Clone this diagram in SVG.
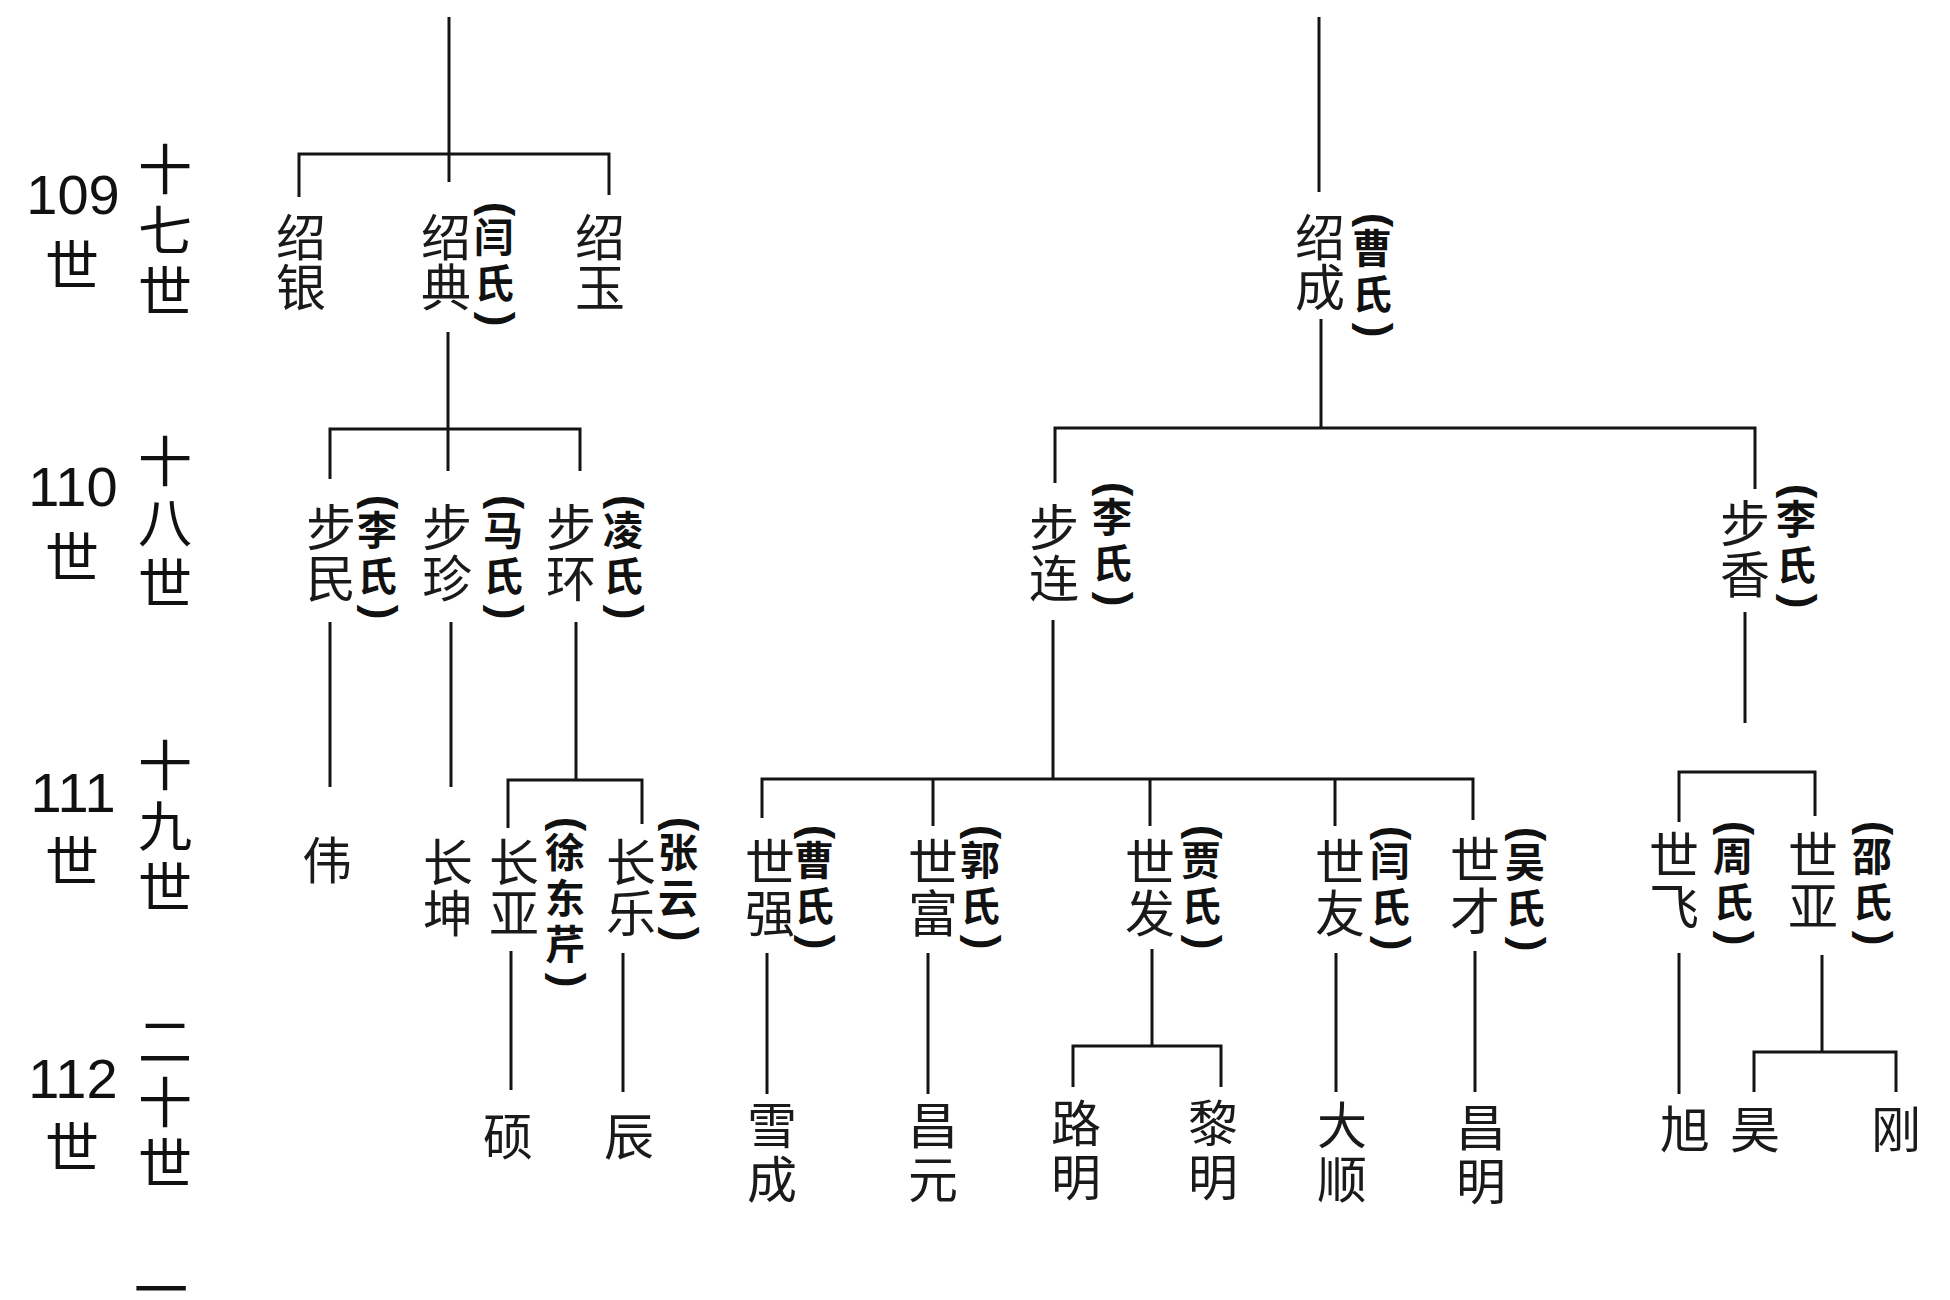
<svg xmlns="http://www.w3.org/2000/svg" width="1950" height="1300" viewBox="0 0 1950 1300">
<style>
.bg{fill:#fff}
.ln{fill:none;stroke:#141414;stroke-width:3;stroke-linecap:butt;stroke-linejoin:miter}
.nm{font-family:"Noto Sans CJK SC","Noto Sans CJK TC",sans-serif;font-size:50px;text-anchor:middle;fill:#1a1a1a}
.wf{font-family:"Noto Sans CJK SC","Noto Sans CJK TC",sans-serif;font-size:40px;font-weight:bold;text-anchor:middle;fill:#111}
.br{font-family:"Liberation Sans",Arial,sans-serif;font-size:44px;font-weight:bold;text-anchor:middle;dominant-baseline:central;fill:#111}
.num{font-family:"Liberation Sans",Arial,sans-serif;font-size:56px;text-anchor:middle;fill:#111}
.gc{font-family:"Noto Sans CJK SC","Noto Sans CJK TC",sans-serif;font-size:54px;text-anchor:middle;fill:#111}
</style>
<rect class="bg" x="0" y="0" width="1950" height="1300"/>

<g id="gen-labels">
  <g id="gen109"><text class="num" x="73" y="214">109</text><text class="gc" x="72" y="286">世</text>
    <text class="gc"><tspan x="165" y="190">十</tspan><tspan x="165" y="251">七</tspan><tspan x="165" y="312">世</tspan></text></g>
  <g id="gen110"><text class="num" x="73" y="506">110</text><text class="gc" x="72" y="578">世</text>
    <text class="gc"><tspan x="165" y="482">十</tspan><tspan x="165" y="543">八</tspan><tspan x="165" y="604">世</tspan></text></g>
  <g id="gen111"><text class="num" x="73" y="812">111</text><text class="gc" x="72" y="882">世</text>
    <text class="gc"><tspan x="165" y="786">十</tspan><tspan x="165" y="847">九</tspan><tspan x="165" y="908">世</tspan></text></g>
  <g id="gen112"><text class="num" x="73" y="1098">112</text><text class="gc" x="72" y="1168">世</text>
    <text class="gc"><tspan x="165" y="1062">二</tspan><tspan x="165" y="1123">十</tspan><tspan x="165" y="1184">世</tspan></text></g>
  <g id="gen113"><text class="gc" x="161" y="1310">一</text></g>
</g>

<g id="connectors">
  <path class="ln" d="M449,17 V182"/>
  <path class="ln" d="M299,197 V154 H609 V195"/>
  <path class="ln" d="M1319,17 V192"/>
  <path class="ln" d="M448,332 V471"/>
  <path class="ln" d="M330,479 V429 H580 V471"/>
  <path class="ln" d="M1321,319 V428"/>
  <path class="ln" d="M1055,483 V428 H1755 V489"/>
  <path class="ln" d="M330,622 V787"/>
  <path class="ln" d="M451,622 V787"/>
  <path class="ln" d="M576,622 V780"/>
  <path class="ln" d="M508,828 V780 H642 V824"/>
  <path class="ln" d="M1053,620 V779"/>
  <path class="ln" d="M762,818 V779 H1473 V820"/>
  <path class="ln" d="M933,779 V826"/>
  <path class="ln" d="M1150,779 V826"/>
  <path class="ln" d="M1335,779 V826"/>
  <path class="ln" d="M1745,612 V723"/>
  <path class="ln" d="M1679,822 V772 H1815 V816"/>
  <path class="ln" d="M511,951 V1090"/>
  <path class="ln" d="M623,953 V1092"/>
  <path class="ln" d="M767,953 V1094"/>
  <path class="ln" d="M928,953 V1094"/>
  <path class="ln" d="M1152,949 V1046"/>
  <path class="ln" d="M1073,1087 V1046 H1221 V1087"/>
  <path class="ln" d="M1336,953 V1092"/>
  <path class="ln" d="M1475,951 V1092"/>
  <path class="ln" d="M1679,953 V1094"/>
  <path class="ln" d="M1822,955 V1052"/>
  <path class="ln" d="M1754,1092 V1052 H1896 V1092"/>
</g>

<!-- generation 17 -->
<g id="n-shaoyin"><text class="nm"><tspan x="301" y="256">绍</tspan><tspan x="301" y="306">银</tspan></text></g>
<g id="n-shaodian"><text class="nm"><tspan x="446" y="256">绍</tspan><tspan x="446" y="306">典</tspan></text>
  <text class="br" transform="translate(498,209) rotate(90)">(</text>
  <text class="wf"><tspan x="494" y="252">闫</tspan><tspan x="494" y="298">氏</tspan></text>
  <text class="br" transform="translate(498,319) rotate(90)">)</text></g>
<g id="n-shaoyu"><text class="nm"><tspan x="600" y="256">绍</tspan><tspan x="600" y="306">玉</tspan></text></g>
<g id="n-shaocheng"><text class="nm"><tspan x="1320" y="256">绍</tspan><tspan x="1320" y="306">成</tspan></text>
  <text class="br" transform="translate(1376,220) rotate(90)">(</text>
  <text class="wf"><tspan x="1372" y="263">曹</tspan><tspan x="1372" y="309">氏</tspan></text>
  <text class="br" transform="translate(1376,330) rotate(90)">)</text></g>

<!-- generation 18 -->
<g id="n-bumin"><text class="nm"><tspan x="331" y="546">步</tspan><tspan x="331" y="597">民</tspan></text>
  <text class="br" transform="translate(381,502) rotate(90)">(</text>
  <text class="wf"><tspan x="377" y="545">李</tspan><tspan x="377" y="591">氏</tspan></text>
  <text class="br" transform="translate(381,612) rotate(90)">)</text></g>
<g id="n-buzhen"><text class="nm"><tspan x="447" y="546">步</tspan><tspan x="447" y="597">珍</tspan></text>
  <text class="br" transform="translate(507,502) rotate(90)">(</text>
  <text class="wf"><tspan x="503" y="545">马</tspan><tspan x="503" y="591">氏</tspan></text>
  <text class="br" transform="translate(507,612) rotate(90)">)</text></g>
<g id="n-buhuan"><text class="nm"><tspan x="571" y="546">步</tspan><tspan x="571" y="597">环</tspan></text>
  <text class="br" transform="translate(627,502) rotate(90)">(</text>
  <text class="wf"><tspan x="623" y="545">凌</tspan><tspan x="623" y="591">氏</tspan></text>
  <text class="br" transform="translate(627,612) rotate(90)">)</text></g>
<g id="n-bulian"><text class="nm"><tspan x="1054" y="546">步</tspan><tspan x="1054" y="597">连</tspan></text>
  <text class="br" transform="translate(1116,489) rotate(90)">(</text>
  <text class="wf"><tspan x="1112" y="532">李</tspan><tspan x="1112" y="578">氏</tspan></text>
  <text class="br" transform="translate(1116,599) rotate(90)">)</text></g>
<g id="n-buxiang"><text class="nm"><tspan x="1745" y="542">步</tspan><tspan x="1745" y="593">香</tspan></text>
  <text class="br" transform="translate(1800,491) rotate(90)">(</text>
  <text class="wf"><tspan x="1796" y="534">李</tspan><tspan x="1796" y="580">氏</tspan></text>
  <text class="br" transform="translate(1800,601) rotate(90)">)</text></g>

<!-- generation 19 -->
<g id="n-wei"><text class="nm" x="327" y="879">伟</text></g>
<g id="n-changkun"><text class="nm"><tspan x="448" y="881">长</tspan><tspan x="448" y="932">坤</tspan></text></g>
<g id="n-changya"><text class="nm"><tspan x="514" y="881">长</tspan><tspan x="514" y="932">亚</tspan></text>
  <text class="br" transform="translate(569,824) rotate(90)">(</text>
  <text class="wf"><tspan x="565" y="867">徐</tspan><tspan x="565" y="913">东</tspan><tspan x="565" y="959">芹</tspan></text>
  <text class="br" transform="translate(569,980) rotate(90)">)</text></g>
<g id="n-changle"><text class="nm"><tspan x="631" y="881">长</tspan><tspan x="631" y="932">乐</tspan></text>
  <text class="br" transform="translate(682,824) rotate(90)">(</text>
  <text class="wf"><tspan x="678" y="867">张</tspan><tspan x="678" y="913">云</tspan></text>
  <text class="br" transform="translate(682,934) rotate(90)">)</text></g>
<g id="n-shiqiang"><text class="nm"><tspan x="770" y="881">世</tspan><tspan x="770" y="932">强</tspan></text>
  <text class="br" transform="translate(818,832) rotate(90)">(</text>
  <text class="wf"><tspan x="814" y="875">曹</tspan><tspan x="814" y="921">氏</tspan></text>
  <text class="br" transform="translate(818,942) rotate(90)">)</text></g>
<g id="n-shifu"><text class="nm"><tspan x="933" y="881">世</tspan><tspan x="933" y="932">富</tspan></text>
  <text class="br" transform="translate(984,832) rotate(90)">(</text>
  <text class="wf"><tspan x="980" y="875">郭</tspan><tspan x="980" y="921">氏</tspan></text>
  <text class="br" transform="translate(984,942) rotate(90)">)</text></g>
<g id="n-shifa"><text class="nm"><tspan x="1150" y="881">世</tspan><tspan x="1150" y="932">发</tspan></text>
  <text class="br" transform="translate(1205,832) rotate(90)">(</text>
  <text class="wf"><tspan x="1201" y="875">贾</tspan><tspan x="1201" y="921">氏</tspan></text>
  <text class="br" transform="translate(1205,942) rotate(90)">)</text></g>
<g id="n-shiyou"><text class="nm"><tspan x="1340" y="881">世</tspan><tspan x="1340" y="932">友</tspan></text>
  <text class="br" transform="translate(1394,833) rotate(90)">(</text>
  <text class="wf"><tspan x="1390" y="876">闫</tspan><tspan x="1390" y="922">氏</tspan></text>
  <text class="br" transform="translate(1394,943) rotate(90)">)</text></g>
<g id="n-shicai"><text class="nm"><tspan x="1475" y="879">世</tspan><tspan x="1475" y="930">才</tspan></text>
  <text class="br" transform="translate(1529,834) rotate(90)">(</text>
  <text class="wf"><tspan x="1525" y="877">吴</tspan><tspan x="1525" y="923">氏</tspan></text>
  <text class="br" transform="translate(1529,944) rotate(90)">)</text></g>
<g id="n-shifei"><text class="nm"><tspan x="1674" y="874">世</tspan><tspan x="1674" y="925">飞</tspan></text>
  <text class="br" transform="translate(1737,828) rotate(90)">(</text>
  <text class="wf"><tspan x="1733" y="871">周</tspan><tspan x="1733" y="917">氏</tspan></text>
  <text class="br" transform="translate(1737,938) rotate(90)">)</text></g>
<g id="n-shiya"><text class="nm"><tspan x="1813" y="874">世</tspan><tspan x="1813" y="925">亚</tspan></text>
  <text class="br" transform="translate(1876,828) rotate(90)">(</text>
  <text class="wf"><tspan x="1872" y="871">邵</tspan><tspan x="1872" y="917">氏</tspan></text>
  <text class="br" transform="translate(1876,938) rotate(90)">)</text></g>

<!-- generation 20 -->
<g id="n-shuo"><text class="nm" x="508" y="1155">硕</text></g>
<g id="n-chen"><text class="nm" x="629" y="1155">辰</text></g>
<g id="n-xuecheng"><text class="nm"><tspan x="772" y="1144">雪</tspan><tspan x="772" y="1198">成</tspan></text></g>
<g id="n-changyuan"><text class="nm"><tspan x="933" y="1144">昌</tspan><tspan x="933" y="1198">元</tspan></text></g>
<g id="n-luming"><text class="nm"><tspan x="1076" y="1142">路</tspan><tspan x="1076" y="1196">明</tspan></text></g>
<g id="n-liming"><text class="nm"><tspan x="1213" y="1142">黎</tspan><tspan x="1213" y="1196">明</tspan></text></g>
<g id="n-dashun"><text class="nm"><tspan x="1342" y="1144">大</tspan><tspan x="1342" y="1198">顺</tspan></text></g>
<g id="n-changming"><text class="nm"><tspan x="1481" y="1146">昌</tspan><tspan x="1481" y="1200">明</tspan></text></g>
<g id="n-xu"><text class="nm" x="1685" y="1148">旭</text></g>
<g id="n-hao"><text class="nm" x="1755" y="1148">昊</text></g>
<g id="n-gang"><text class="nm" x="1896" y="1148">刚</text></g>
</svg>
